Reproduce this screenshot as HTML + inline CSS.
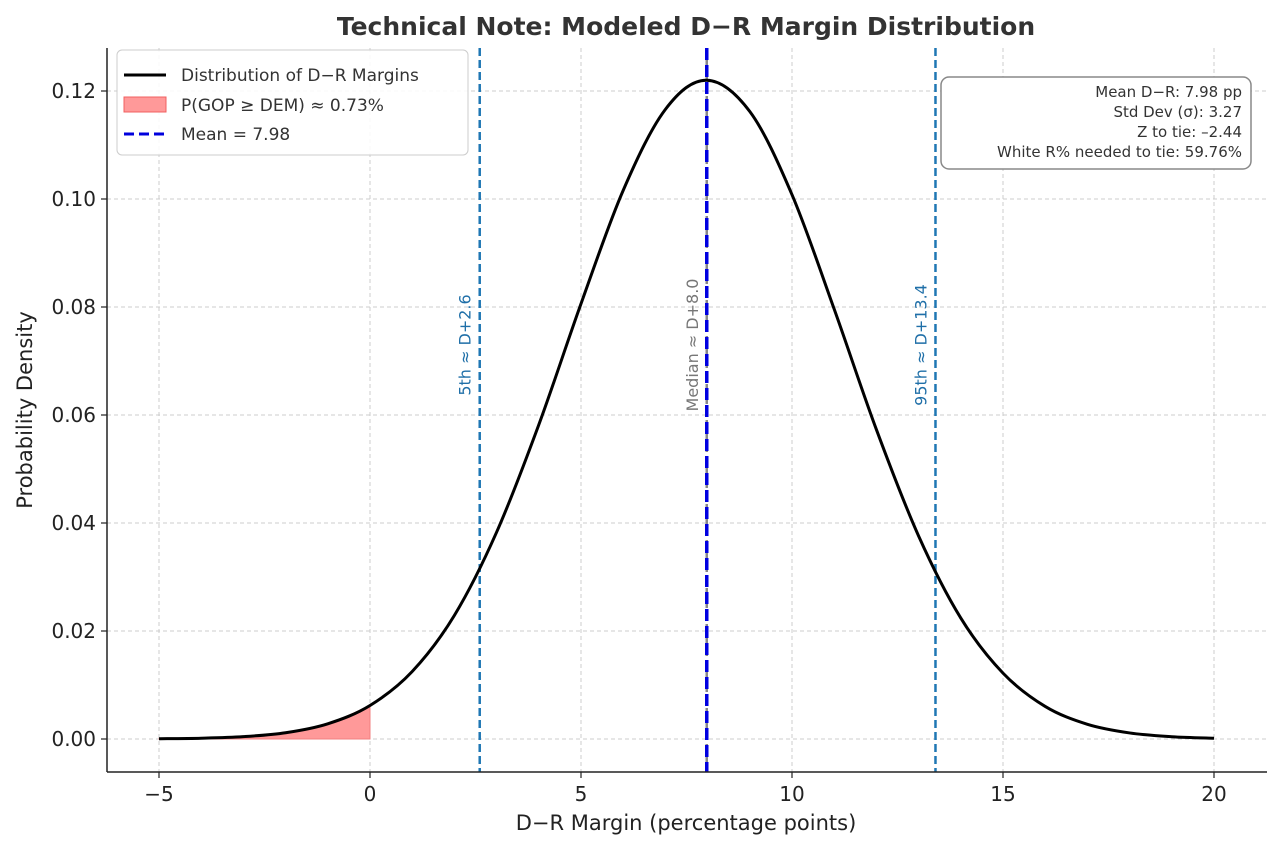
<!DOCTYPE html>
<html><head><meta charset="utf-8"><style>
html,body{margin:0;padding:0;background:#fff;}
svg{display:block;font-family:"DejaVu Sans","Liberation Sans",sans-serif;}
</style></head><body>
<svg id="chart" width="1280" height="849" viewBox="0 0 1280 849">
<text x="686" y="35" text-anchor="middle" font-size="25" font-weight="bold" fill="#333">Technical Note: Modeled D−R Margin Distribution</text>
<g id="grid"></g>
<g id="marks"></g>
<g id="axes"></g>
<text x="686" y="830" text-anchor="middle" font-size="21" fill="#222">D−R Margin (percentage points)</text>
<text transform="translate(32,410) rotate(-90)" text-anchor="middle" font-size="21" fill="#222">Probability Density</text>
<g>
<rect x="117" y="50" width="351" height="105" rx="5" fill="#fff" fill-opacity="0.85" stroke="#ccc"/>
<g><line x1="124" y1="75" x2="166" y2="75" stroke="#000" stroke-width="3"/><text x="181" y="81" font-size="17" fill="#333">Distribution of D−R Margins</text></g>
<g><rect x="124" y="97" width="42" height="15" fill="#ff9999" stroke="#f06060"/><text x="181" y="111" font-size="17" fill="#333">P(GOP ≥ DEM) ≈ 0.73%</text></g>
<g><line x1="124" y1="134" x2="166" y2="134" stroke="#0000dd" stroke-width="3" stroke-dasharray="10,5"/><text x="181" y="140" font-size="17" fill="#333">Mean = 7.98</text></g>
</g>
<g>
<rect x="941" y="77" width="310" height="92" rx="8" fill="#fff" stroke="#888" stroke-width="1.5"/>
<g font-size="15" fill="#333" text-anchor="end">
<text x="1242" y="97">Mean D−R: 7.98 pp</text>
<text x="1242" y="117">Std Dev (σ): 3.27</text>
<text x="1242" y="137">Z to tie: –2.44</text>
<text x="1242" y="157">White R% needed to tie: 59.76%</text>
</g></g>
</svg>
<script>
const xValues=[-5,-4,-3,-2,-1,0,1,2,3,4,5,6,7,7.98,9,10,11,12,13,14,15,16,17,18,19,20];
const densityValues=[0.0000463,0.000149,0.000436,0.00116,0.00282,0.00621,0.0125,0.0229,0.0383,0.0582,0.0806,0.1016,0.1166,0.1220,0.1162,0.1008,0.0796,0.0573,0.0376,0.0224,0.0122,0.00603,0.00272,0.00112,0.000418,0.000142];
const xTicks=[-5,0,5,10,15,20];
const yTicks=[0,0.02,0.04,0.06,0.08,0.10,0.12];
const refValues=[2.6,7.98,13.4];
const refLabels=["5th ≈ D+2.6","Median ≈ D+8.0","95th ≈ D+13.4"];
const tieThreshold=[0];

const NS="http://www.w3.org/2000/svg";
const X=v=>370+v*42.2;
const Y=v=>739-v*5400;
const pTop=48,pBottom=772,pLeft=107,pRight=1267;
function mk(tag,attrs,parent){const e=document.createElementNS(NS,tag);for(const k in attrs)e.setAttribute(k,attrs[k]);parent.appendChild(e);return e;}
const grid=document.getElementById('grid'),marks=document.getElementById('marks'),axes=document.getElementById('axes');

xTicks.forEach(t=>{
  const g=mk('line',{x1:X(t),x2:X(t),y1:pTop,y2:pBottom,stroke:'#ccc','stroke-dasharray':'4,3'},grid);
  
  
  const tk=mk('line',{x1:X(t),x2:X(t),y1:pBottom,y2:pBottom+6,stroke:'#222','stroke-width':1.2},axes);
  
  
  const lb=mk('text',{x:X(t),y:pBottom+29,'text-anchor':'middle','font-size':20,fill:'#222'},axes);
  lb.textContent=(t<0?'−'+Math.abs(t):t);
  
  
});
yTicks.forEach(t=>{
  const g=mk('line',{x1:pLeft,x2:pRight,y1:Y(t),y2:Y(t),stroke:'#ccc','stroke-dasharray':'4,3'},grid);
  
  
  const tk=mk('line',{x1:pLeft-6,x2:pLeft,y1:Y(t),y2:Y(t),stroke:'#222','stroke-width':1.2},axes);
  
  
  const lb=mk('text',{x:pLeft-11,y:Y(t)+7,'text-anchor':'end','font-size':20,fill:'#222'},axes);
  lb.textContent=t.toFixed(2);
  
  
});
const sp1=mk('line',{x1:pLeft,x2:pLeft,y1:pTop,y2:pBottom,stroke:'#222','stroke-width':1.5},axes);


const sp2=mk('line',{x1:pLeft,x2:pRight,y1:pBottom,y2:pBottom,stroke:'#222','stroke-width':1.5},axes);



function smooth(pts){
  let d='M'+pts[0][0]+','+pts[0][1];
  for(let i=0;i<pts.length-1;i++){
    const p0=pts[Math.max(i-1,0)],p1=pts[i],p2=pts[i+1],p3=pts[Math.min(i+2,pts.length-1)];
    const c1=[p1[0]+(p2[0]-p0[0])/6,p1[1]+(p2[1]-p0[1])/6];
    const c2=[p2[0]-(p3[0]-p1[0])/6,p2[1]-(p3[1]-p1[1])/6];
    d+=' C'+c1.join(',')+' '+c2.join(',')+' '+p2.join(',');
  }
  return d;
}
const pts=xValues.map((x,i)=>[X(x),Y(densityValues[i])]);
const tailPts=[];xValues.forEach((x,i)=>{if(x<=tieThreshold[0])tailPts.push(pts[i]);});
const tail=mk('path',{d:smooth(tailPts)+' L'+X(tieThreshold[0])+','+Y(0)+' L'+tailPts[0][0]+','+Y(0)+' Z',fill:'#ff9999',stroke:'#f08080','stroke-width':1},marks);



const cols=['#1f77b4','#888','#1f77b4'];
refValues.forEach((v,i)=>{
  const l=mk('line',{x1:X(v),x2:X(v),y1:pTop,y2:pBottom,stroke:cols[i],'stroke-width':2.5,'stroke-dasharray':'8,4'},marks);
  
  
  const t=mk('text',{transform:'translate('+(X(v)-9)+',345) rotate(-90)','text-anchor':'middle','font-size':16,fill:i==1?'#777':'#1f6fa8'},marks);
  t.textContent=refLabels[i];
  
  
});
const curve=mk('path',{d:smooth(pts),fill:'none',stroke:'#000','stroke-width':3},marks);


const mean=mk('line',{x1:X(refValues[1]),x2:X(refValues[1]),y1:pTop,y2:pBottom,stroke:'#0000e0','stroke-width':3.5,'stroke-dasharray':'12,5'},marks);


</script>
</body></html>
